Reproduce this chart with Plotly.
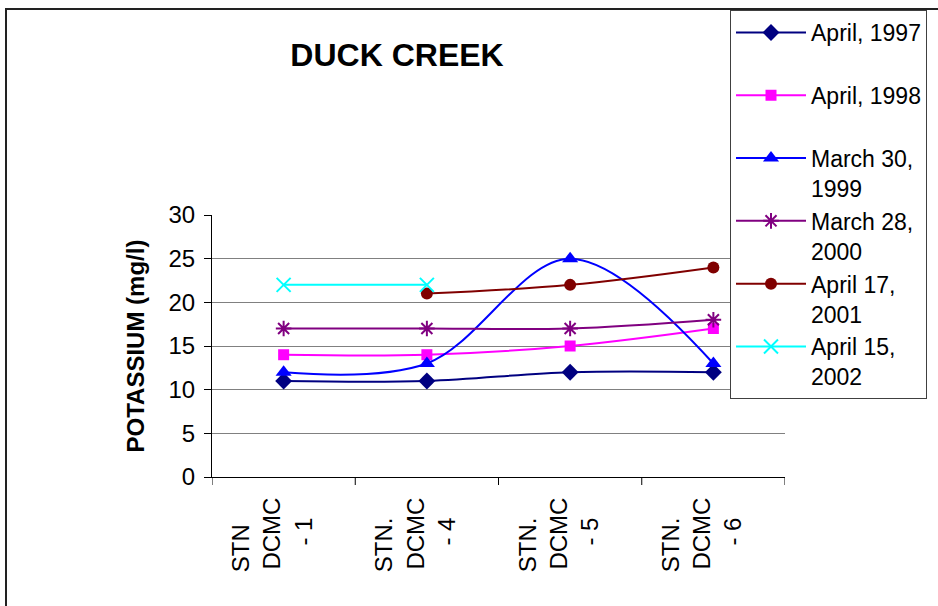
import plotly.graph_objects as go

NB = "\u00a0"
stations = [
    "STN" + NB * 4 + "<br>DCMC<br>- 1" + NB * 3,
    "STN." + NB * 3 + "<br>DCMC<br>- 4" + NB * 3,
    "STN." + NB * 3 + "<br>DCMC<br>- 5" + NB * 3,
    "STN." + NB * 3 + "<br>DCMC<br>- 6" + NB * 3,
]

apr_1997 = [11, 11, 12, 12]
apr_1998 = [14, 14, 15, 17]
mar_1999 = [12, 13, 25, 13]
mar_2000 = [17, 17, 17, 18]
apr_2001 = [None, 21, 22, 24]
apr_2002 = [22, 22, None, None]

series = [
    ("April, 1997<br>" + NB, apr_1997, "#000080", "diamond", 13, 0),
    ("April, 1998<br>" + NB, apr_1998, "#FF00FF", "square", 11, 0),
    ("March 30,<br>1999", mar_1999, "#0000FF", "triangle-up", 14, 0),
    ("March 28,<br>2000", mar_2000, "#800080", "asterisk-open", 13, 2),
    ("April 17,<br>2001", apr_2001, "#800000", "circle", 12, 0),
    ("April 15,<br>2002", apr_2002, "#00FFFF", "x-thin-open", 14, 2),
]

L, R, T, B = 212, 785, 215, 477
W, H = 938, 606
pw, ph = R - L, B - T

def px(x):
    return (x - L) / pw

def py(y):
    return (B - y) / ph

fig = go.Figure()
xs = list(range(len(stations)))
for name, vals, color, sym, size, lw in series:
    fig.add_trace(go.Scatter(
        x=xs, y=vals, name=name, mode="lines+markers",
        line=dict(color=color, width=2, shape="spline", smoothing=1),
        marker=dict(symbol=sym, size=size, color=color,
                    line=dict(color=color, width=lw)),
        connectgaps=False,
    ))

fig.update_layout(
    width=W, height=H,
    margin=dict(l=L, r=W - R, t=T, b=H - B, autoexpand=False),
    paper_bgcolor="white", plot_bgcolor="white",
    font=dict(family="Liberation Sans, Arial, sans-serif", color="black"),
    title=dict(text="<b>DUCK CREEK</b>", font=dict(size=32),
               x=397 / W, xref="container", xanchor="center",
               y=1 - 55 / H, yref="container", yanchor="middle"),
    showlegend=True,
    legend=dict(x=px(730), y=py(10), xanchor="left", yanchor="top",
                bgcolor="white", bordercolor="#404040", borderwidth=1,
                font=dict(size=23), valign="top", itemwidth=70,
                tracegroupgap=0, maxheight=600),
    xaxis=dict(
        type="linear", range=[-0.5, 3.5],
        tickmode="array", tickvals=xs, ticktext=stations,
        tickangle=-90, tickfont=dict(size=24),
        ticklabelstandoff=10, ticklabelshift=-11,
        showgrid=False, zeroline=False,
        showline=True, linecolor="black", linewidth=1,
        ticks="",
    ),
    yaxis=dict(
        range=[0, 30], dtick=5, tick0=0,
        tickfont=dict(size=24), ticklabelstandoff=4,
        showgrid=True, gridcolor="#808080", gridwidth=1,
        zeroline=False,
        showline=True, linecolor="black", linewidth=1,
        ticks="outside", ticklen=7, tickcolor="black",
        title=dict(text="<b>POTASSIUM (mg/l)</b>", font=dict(size=24), standoff=17),
    ),
)

# boundary tick marks on the category axis
for b in [-0.5, 0.5, 1.5, 2.5, 3.5]:
    fig.add_shape(type="line", xref="x", yref="paper", x0=b, x1=b,
                  y0=0, y1=-8 / ph, line=dict(color="black", width=1))

# outer chart border (extends beyond the visible canvas on right and bottom)
fig.add_shape(type="rect", xref="paper", yref="paper",
              x0=px(6), x1=px(W + 20), y0=py(H + 20), y1=py(9),
              line=dict(color="#222222", width=2), layer="below")

fig.write_html("out.html", config={"displayModeBar": False},
               post_script="document.body.style.margin='0';document.body.style.padding='0';")
